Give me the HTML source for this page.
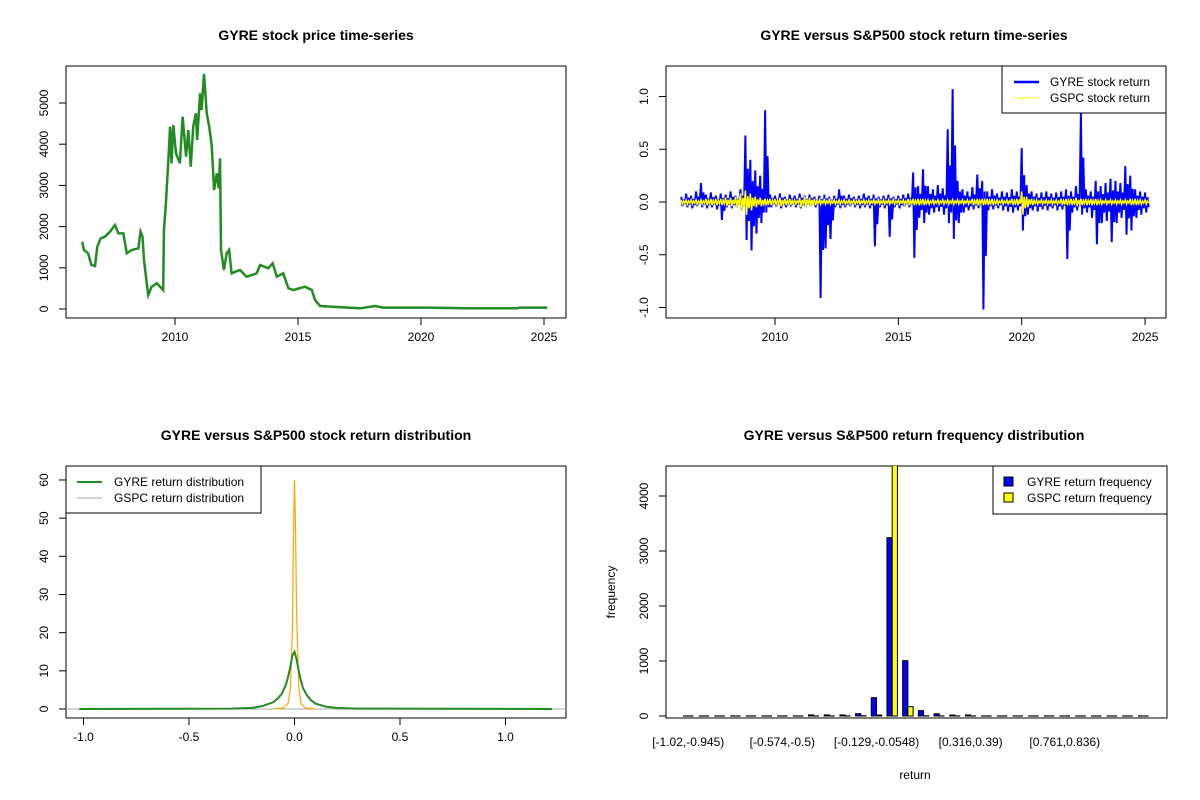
<!DOCTYPE html>
<html><head><meta charset="utf-8">
<style>
html,body{margin:0;padding:0;background:#fff;}
svg{display:block;font-family:"Liberation Sans",Arial,sans-serif;}
.t{font-weight:bold;font-size:14px;text-anchor:middle;}
.tk{font-size:12px;}
</style></head>
<body>
<svg id="chart" width="1200" height="800" viewBox="0 0 1200 800" xmlns="http://www.w3.org/2000/svg">
<defs>
<clipPath id="c1"><rect x="66" y="66" width="500" height="252"/></clipPath>
<clipPath id="c2"><rect x="666" y="66" width="500" height="252"/></clipPath>
<clipPath id="c3"><rect x="66" y="466" width="500" height="252"/></clipPath>
<clipPath id="c4"><rect x="666" y="466" width="501" height="252"/></clipPath>
</defs>
<text class="t" x="316" y="40">GYRE stock price time-series</text>
<text class="t" x="914" y="40">GYRE versus S&amp;P500 stock return time-series</text>
<text class="t" x="316" y="440">GYRE versus S&amp;P500 stock return distribution</text>
<text class="t" x="914" y="440">GYRE versus S&amp;P500 return frequency distribution</text>
<g id="p1"></g>
<g id="p2"></g>
<g id="p3"></g>
<g id="p4"></g>
</svg>
<script>
// ---- Panel 1: price ----
const priceYears=[2006.23,2006.3,2006.47,2006.6,2006.75,2006.84,2006.98,2007.15,2007.36,2007.56,2007.7,2007.9,2008.04,2008.24,2008.51,2008.6,2008.68,2008.74,2008.82,2008.91,2009.05,2009.26,2009.52,2009.55,2009.63,2009.73,2009.8,2009.86,2009.93,2010.04,2010.2,2010.31,2010.45,2010.54,2010.64,2010.74,2010.85,2010.9,2011.02,2011.08,2011.18,2011.29,2011.39,2011.49,2011.59,2011.7,2011.78,2011.83,2011.87,2011.99,2012.1,2012.2,2012.3,2012.64,2012.91,2013.32,2013.46,2013.79,2013.97,2014.14,2014.4,2014.61,2014.81,2015.28,2015.56,2015.69,2015.9,2016.84,2017.52,2018.13,2018.47,2020.23,2021.86,2023.89,2024.02,2025.13];
const priceVals=[1633,1432,1352,1068,1044,1512,1716,1755,1877,2039,1837,1837,1352,1432,1473,1877,1755,1189,784,340,541,624,461,1917,2565,3616,4425,3536,4466,3779,3536,4667,3697,4344,3454,4425,4749,4102,5235,4830,5704,4749,4425,3980,2888,3293,2929,3657,1432,947,1352,1432,866,947,784,866,1068,988,1109,784,866,502,461,541,461,218,73,40,17,73,32,32,17,17,32,32];
const priceYTicks=[0,1000,2000,3000,4000,5000];
const yearTicks=[2010,2015,2020,2025];
// ---- Panel 2: returns (0.2-year steps from 2006.2) ----
const retStart=2006.2, retStep=0.2;
const gyreUp=[0.05,0.08,0.06,0.1,0.18,0.07,0.09,0.06,0.08,0.07,0.1,0.06,0.12,0.63,0.4,0.3,0.25,0.87,0.07,0.06,0.08,0.05,0.07,0.06,0.08,0.06,0.07,0.05,0.06,0.07,0.05,0.06,0.12,0.06,0.07,0.05,0.06,0.08,0.06,0.07,0.05,0.06,0.07,0.05,0.06,0.07,0.08,0.28,0.15,0.31,0.15,0.12,0.16,0.13,0.69,1.07,0.2,0.12,0.1,0.14,0.26,0.2,0.1,0.12,0.08,0.1,0.09,0.12,0.1,0.51,0.16,0.1,0.08,0.09,0.1,0.08,0.09,0.1,0.12,0.1,0.15,0.84,0.12,0.1,0.2,0.15,0.18,0.22,0.2,0.18,0.34,0.25,0.12,0.1,0.09];
const gyreDown=[-0.04,-0.05,-0.06,-0.04,-0.05,-0.06,-0.05,-0.07,-0.17,-0.05,-0.06,-0.05,-0.08,-0.36,-0.46,-0.3,-0.2,-0.1,-0.05,-0.04,-0.06,-0.05,-0.04,-0.05,-0.06,-0.05,-0.04,-0.05,-0.91,-0.44,-0.35,-0.05,-0.06,-0.05,-0.04,-0.05,-0.06,-0.05,-0.06,-0.42,-0.05,-0.06,-0.33,-0.05,-0.06,-0.04,-0.05,-0.53,-0.15,-0.2,-0.12,-0.1,-0.09,-0.12,-0.2,-0.35,-0.2,-0.1,-0.08,-0.07,-0.06,-1.02,-0.08,-0.07,-0.06,-0.08,-0.09,-0.1,-0.08,-0.27,-0.12,-0.08,-0.09,-0.07,-0.08,-0.06,-0.08,-0.07,-0.54,-0.1,-0.08,-0.12,-0.1,-0.15,-0.4,-0.2,-0.18,-0.38,-0.2,-0.15,-0.31,-0.27,-0.15,-0.12,-0.1];
const spUp=[0.02,0.02,0.02,0.02,0.02,0.03,0.03,0.03,0.03,0.04,0.04,0.05,0.08,0.11,0.08,0.05,0.04,0.03,0.03,0.03,0.04,0.03,0.03,0.02,0.04,0.05,0.04,0.03,0.02,0.02,0.02,0.02,0.02,0.02,0.02,0.02,0.02,0.02,0.02,0.02,0.02,0.02,0.02,0.02,0.02,0.02,0.03,0.03,0.03,0.03,0.02,0.02,0.02,0.02,0.02,0.02,0.02,0.02,0.02,0.03,0.03,0.03,0.03,0.03,0.02,0.02,0.02,0.03,0.03,0.1,0.05,0.03,0.02,0.02,0.02,0.02,0.02,0.03,0.03,0.03,0.04,0.03,0.03,0.03,0.03,0.02,0.02,0.02,0.02,0.02,0.02,0.03,0.03,0.02,0.02];
const spDown=[-0.02,-0.02,-0.02,-0.02,-0.02,-0.03,-0.03,-0.03,-0.03,-0.04,-0.04,-0.05,-0.09,-0.12,-0.08,-0.05,-0.04,-0.03,-0.03,-0.03,-0.04,-0.03,-0.03,-0.02,-0.05,-0.05,-0.04,-0.03,-0.02,-0.02,-0.02,-0.02,-0.02,-0.02,-0.02,-0.02,-0.02,-0.02,-0.02,-0.02,-0.02,-0.02,-0.02,-0.02,-0.02,-0.02,-0.03,-0.03,-0.03,-0.03,-0.02,-0.02,-0.02,-0.02,-0.02,-0.02,-0.02,-0.02,-0.02,-0.03,-0.03,-0.03,-0.03,-0.03,-0.02,-0.02,-0.02,-0.03,-0.03,-0.12,-0.05,-0.03,-0.02,-0.02,-0.02,-0.02,-0.02,-0.03,-0.03,-0.03,-0.04,-0.03,-0.03,-0.03,-0.03,-0.02,-0.02,-0.02,-0.02,-0.02,-0.02,-0.03,-0.03,-0.02,-0.02];
const retYTicks=[-1.0,-0.5,0.0,0.5,1.0];
const retYLabels=["-1.0","-0.5","0.0","0.5","1.0"];
// ---- Panel 3: densities ----
const gyreDenX=[-1.02,-0.3,-0.2,-0.15,-0.1,-0.08,-0.06,-0.04,-0.03,-0.02,-0.01,0,0.01,0.02,0.03,0.04,0.06,0.08,0.1,0.15,0.2,0.3,1.22];
const gyreDenY=[0,0.1,0.3,0.8,1.8,2.7,4,6.5,8.5,11,14,15,13,10,7.5,5.5,3.5,2.2,1.4,0.6,0.3,0.1,0];
const spDenX=[-0.1,-0.05,-0.03,-0.02,-0.01,-0.005,0,0.005,0.01,0.02,0.03,0.05,0.1];
const spDenY=[0,0.3,1.5,5,20,45,60,47,25,6,1.5,0.3,0];
const denXTicks=[-1.0,-0.5,0.0,0.5,1.0];
const denXLabels=["-1.0","-0.5","0.0","0.5","1.0"];
const denYTicks=[0,10,20,30,40,50,60];
// ---- Panel 4: frequency ----
const binLabels=["[-1.02,-0.945)","","","","","","[-0.574,-0.5)","","","","","","[-0.129,-0.0548)","","","","","","[0.316,0.39)","","","","","","[0.761,0.836)","","","","",""];
const gyreFreq=[0,0,0,0,0,0,0,0,20,20,20,42,333,3242,1006,97,40,18,18,0,0,0,0,0,0,0,0,0,0,0];
const spFreq=[0,0,0,0,0,0,0,0,0,0,0,5,18,4700,170,5,0,0,0,0,0,0,0,0,0,0,0,0,0,0];
const freqTicks=[0,1000,2000,3000,4000];

const NS="http://www.w3.org/2000/svg";
function mk(parent,tag,attrs){const e=document.createElementNS(NS,tag);for(const k in attrs)e.setAttribute(k,attrs[k]);parent.appendChild(e);return e;}
function txt(parent,x,y,s,anchor,rot){const e=mk(parent,'text',{x:x,y:y,'class':'tk','text-anchor':anchor||'middle'});if(rot)e.setAttribute('transform','rotate(-90 '+x+' '+y+')');e.textContent=s;return e;}
function box(g,x0,y0,x1,y1){const r=mk(g,'rect',{x:x0,y:y0,width:x1-x0,height:y1-y0,fill:'none',stroke:'#000','stroke-width':1});}
function xAxis(g,ticks,labels,fx,yb){const a=mk(g,'g',{});
 mk(a,'line',{x1:fx(ticks[0]),x2:fx(ticks[ticks.length-1]),y1:yb,y2:yb,stroke:'#000'});
 ticks.forEach((t,i)=>{const x=fx(t);mk(a,'line',{x1:x,x2:x,y1:yb,y2:yb+7,stroke:'#000'});const l=txt(a,x,yb+23,labels[i]);});}
function yAxis(g,ticks,labels,fy,xl){const a=mk(g,'g',{});
 mk(a,'line',{x1:xl,x2:xl,y1:fy(ticks[0]),y2:fy(ticks[ticks.length-1]),stroke:'#000'});
 ticks.forEach((t,i)=>{const y=fy(t);mk(a,'line',{x1:xl,x2:xl-7,y1:y,y2:y,stroke:'#000'});const l=txt(a,xl-18,y,labels[i],'middle',true);});}

// Panel 1
(function(){const g=document.getElementById('p1');
 const fx=y=>175+(y-2010)*24.6, fy=v=>309-v*0.0412;
 box(g,66,66,566,318);
 xAxis(g,yearTicks,yearTicks.map(String),fx,318);
 yAxis(g,priceYTicks,priceYTicks.map(String),fy,66);
 const p=mk(g,'polyline',{points:priceYears.map((y,i)=>fx(y)+','+fy(priceVals[i])).join(' '),fill:'none',stroke:'#228b22','stroke-width':2.5,'clip-path':'url(#c1)'});
 
})();
// Panel 2
(function(){const g=document.getElementById('p2');
 const fx=y=>775+(y-2010)*24.67, fy=v=>202-v*105.5;
 box(g,666,66,1166,318);
 xAxis(g,yearTicks,yearTicks.map(String),fx,318);
 yAxis(g,retYTicks,retYLabels,fy,666);
 function series(up,down,color,w,name){const s=mk(g,'g',{'clip-path':'url(#c2)'});
  let pts=[];up.forEach((u,i)=>{const x=fx(retStart+i*retStep);const x2=x+2.4;pts.push(x+','+fy(u));pts.push((x+1.2)+','+fy(down[i]));pts.push(x2+','+fy(up[i]*0.5));pts.push((x2+1.2)+','+fy(down[i]*0.5));});
  mk(s,'polyline',{points:pts.join(' '),fill:'none',stroke:color,'stroke-width':w});}
 series(gyreUp,gyreDown,'#0000ff',2,'gyre-return-line');
 series(spUp,spDown,'#ffff00',1.5,'gspc-return-line');
 const lg=mk(g,'g',{});
 mk(lg,'rect',{x:1002,y:66,width:164,height:47,fill:'#fff',stroke:'#000'});
 mk(lg,'line',{x1:1014,x2:1039,y1:82,y2:82,stroke:'#0000ff','stroke-width':2.5});
 mk(lg,'line',{x1:1014,x2:1039,y1:98,y2:98,stroke:'#ffff00','stroke-width':1});
 txt(lg,1050,86,'GYRE stock return','start');txt(lg,1050,102,'GSPC stock return','start');
})();
// Panel 3
(function(){const g=document.getElementById('p3');
 const fx=v=>294.5+v*211, fy=v=>709-v*3.817;
 box(g,66,466,566,718);
 xAxis(g,denXTicks,denXLabels,fx,718);
 yAxis(g,denYTicks,denYTicks.map(String),fy,66);
 const c=mk(g,'g',{'clip-path':'url(#c3)'});
 mk(c,'line',{x1:66,x2:566,y1:fy(0),y2:fy(0),stroke:'#aaaaaa','stroke-width':1});
 const o=mk(c,'polyline',{points:spDenX.map((x,i)=>fx(x)+','+fy(spDenY[i])).join(' '),fill:'none',stroke:'#ffa500','stroke-width':1.2});
 
 const gr=mk(c,'polyline',{points:gyreDenX.map((x,i)=>fx(x)+','+fy(gyreDenY[i])).join(' '),fill:'none',stroke:'#228b22','stroke-width':2});
 
 const lg=mk(g,'g',{});
 mk(lg,'rect',{x:66,y:466,width:195,height:47,fill:'#fff',stroke:'#000'});
 mk(lg,'line',{x1:77,x2:102,y1:482,y2:482,stroke:'#228b22','stroke-width':2});
 mk(lg,'line',{x1:77,x2:102,y1:498,y2:498,stroke:'#aaaaaa','stroke-width':1});
 txt(lg,114,486,'GYRE return distribution','start');txt(lg,114,502,'GSPC return distribution','start');
})();
// Panel 4
(function(){const g=document.getElementById('p4');
 const u=5.23, x0=683, fy=v=>716-v*0.055;
 box(g,666,466,1167,718);
 yAxis(g,freqTicks,freqTicks.map(String),fy,666);
 const c=mk(g,'g',{'clip-path':'url(#c4)'});
 function bar(x,v,fill,name){let b;
  if(v<=0){b=mk(c,'line',{x1:x,x2:x+u,y1:fy(0),y2:fy(0),stroke:'#000','stroke-width':1.2});}
  else{b=mk(c,'rect',{x:x,y:fy(v),width:u,height:716-fy(v),fill:fill,stroke:'#000','stroke-width':1});}
  }
 binLabels.forEach((lab,i)=>{const gx=x0+i*3*u;
  bar(gx,gyreFreq[i],'#0000ff','gyre-freq-bar');
  bar(gx+u,spFreq[i],'#ffff00','gspc-freq-bar');
  if(lab){const l=txt(g,gx+u,746,lab);}
 });
 const xl=txt(g,915,779,'return');
 const yl=txt(g,615,592,'frequency','middle',true);
 const lg=mk(g,'g',{});
 mk(lg,'rect',{x:993,y:466,width:174,height:48,fill:'#fff',stroke:'#000'});
 mk(lg,'rect',{x:1004,y:477,width:9,height:9,fill:'#0000ff',stroke:'#000'});
 mk(lg,'rect',{x:1004,y:493,width:9,height:9,fill:'#ffff00',stroke:'#000'});
 txt(lg,1027,486,'GYRE return frequency','start');txt(lg,1027,502,'GSPC return frequency','start');
})();
</script>
</body></html>
